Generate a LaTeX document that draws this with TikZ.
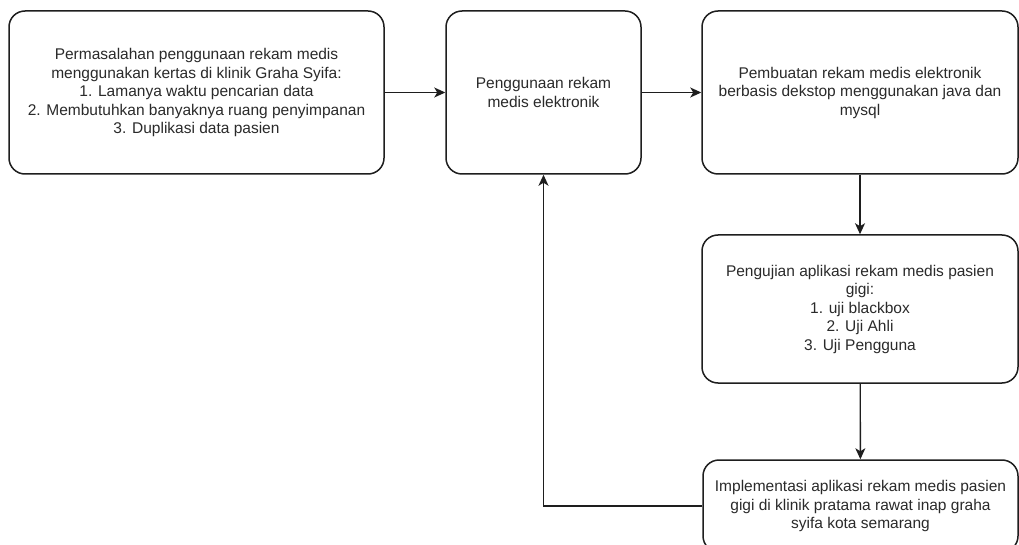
\documentclass[tikz,border=0pt]{standalone}
\usepackage{fontspec}
\setmainfont{Liberation Sans}
\usetikzlibrary{arrows.meta}
\definecolor{ink}{HTML}{2A2A2A}
\definecolor{edge}{HTML}{1E1E1E}
\tikzset{
  stepbox/.style={draw=edge, line width=1.5pt, rounded corners=16pt, fill=white,
    align=center, inner sep=0pt, text=ink,
    font=\fontsize{15.5pt}{18.5pt}\selectfont},
  flow/.style={draw=edge, line width=1.4pt,
    -{Stealth[length=11pt, width=10pt, inset=3pt]}}
}
\begin{document}
\begin{tikzpicture}[x=1pt, y=-1pt]
  \useasboundingbox (0,0) rectangle (1019,545);
  \clip (0,0) rectangle (1019,545);
  \fill[white] (0,0) rectangle (1019,545);

  \node[stepbox, minimum width=375pt, minimum height=163pt] (b1) at (196.5,92.5)
    {Permasalahan penggunaan rekam medis\\menggunakan kertas di klinik Graha Syifa:\\1. Lamanya waktu pencarian data\\2. Membutuhkan banyaknya ruang penyimpanan\\3. Duplikasi data pasien};
  \node[stepbox, minimum width=195pt, minimum height=163pt] (b2) at (543.5,92.5)
    {Penggunaan rekam\\medis elektronik};
  \node[stepbox, minimum width=316pt, minimum height=163pt] (b3) at (860,92.5)
    {Pembuatan rekam medis elektronik\\berbasis dekstop menggunakan java dan\\mysql};
  \node[stepbox, minimum width=316pt, minimum height=148pt] (b4) at (860,309)
    {Pengujian aplikasi rekam medis pasien\\gigi:\\1. uji blackbox\\2. Uji Ahli\\3. Uji Pengguna};
  \node[stepbox, minimum width=315pt, minimum height=92pt] (b5) at (860.5,506)
    {Implementasi aplikasi rekam medis pasien\\gigi di klinik pratama rawat inap graha\\syifa kota semarang};

  \draw[flow] (b1) -- (b2);
  \draw[flow] (b2) -- (b3);
  \draw[flow] (b3) -- (b4);
  \draw[flow] (b4) -- (b5);
  \draw[flow] (b5.west) -| (b2.south);
\end{tikzpicture}
\end{document}
